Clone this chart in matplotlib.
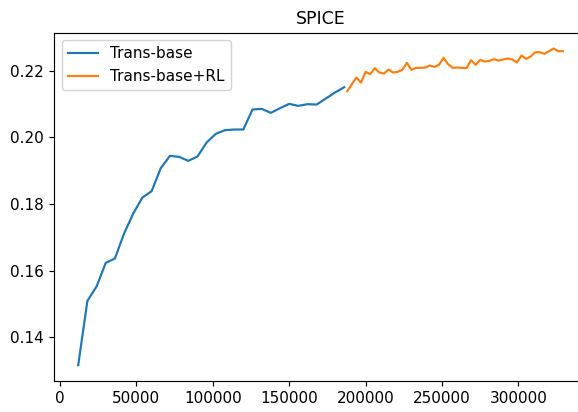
import matplotlib
matplotlib.use("Agg")
import matplotlib.pyplot as plt

# ---------------- DATA ----------------
base_steps = [12000 + 6000 * i for i in range(30)]
base_spice = [0.1316, 0.1509, 0.1552, 0.1623, 0.1636, 0.1711, 0.1771, 0.1819,
              0.1838, 0.1907, 0.1944, 0.1941, 0.1929, 0.1942, 0.1984, 0.2010,
              0.2021, 0.2023, 0.2023, 0.2083, 0.2085, 0.2073, 0.2087, 0.2100,
              0.2094, 0.2099, 0.2098, 0.2116, 0.2134, 0.2150]

rl_steps = [188000 + 3000 * i for i in range(48)]
rl_spice = [0.2138, 0.2159, 0.2179, 0.2164, 0.2196, 0.2189, 0.2207, 0.2194,
            0.2191, 0.2203, 0.2194, 0.2196, 0.2202, 0.2223, 0.2202, 0.2208,
            0.2208, 0.2209, 0.2215, 0.2211, 0.2217, 0.2238, 0.2219, 0.2208,
            0.2209, 0.2208, 0.2207, 0.2231, 0.2217, 0.2232, 0.2227, 0.2229,
            0.2234, 0.2230, 0.2233, 0.2236, 0.2233, 0.2224, 0.2245, 0.2235,
            0.2242, 0.2255, 0.2255, 0.2250, 0.2258, 0.2266, 0.2258, 0.2258]
# --------------------------------------

plt.rcParams["font.size"] = 10.5

DPI = 104.5
fig = plt.figure(figsize=(578 / DPI, 412 / DPI), dpi=DPI)
# axes run slightly past the right edge of the canvas
ax = fig.add_axes([54 / 578, 31 / 412, 533 / 578, 348.3 / 412])

ax.plot(base_steps, base_spice, label="Trans-base")
ax.plot(rl_steps, rl_spice, label="Trans-base+RL")
ax.set_title("SPICE", fontsize=12)
ax.legend(loc="upper left")

fig.savefig("out.png", dpi=DPI)
